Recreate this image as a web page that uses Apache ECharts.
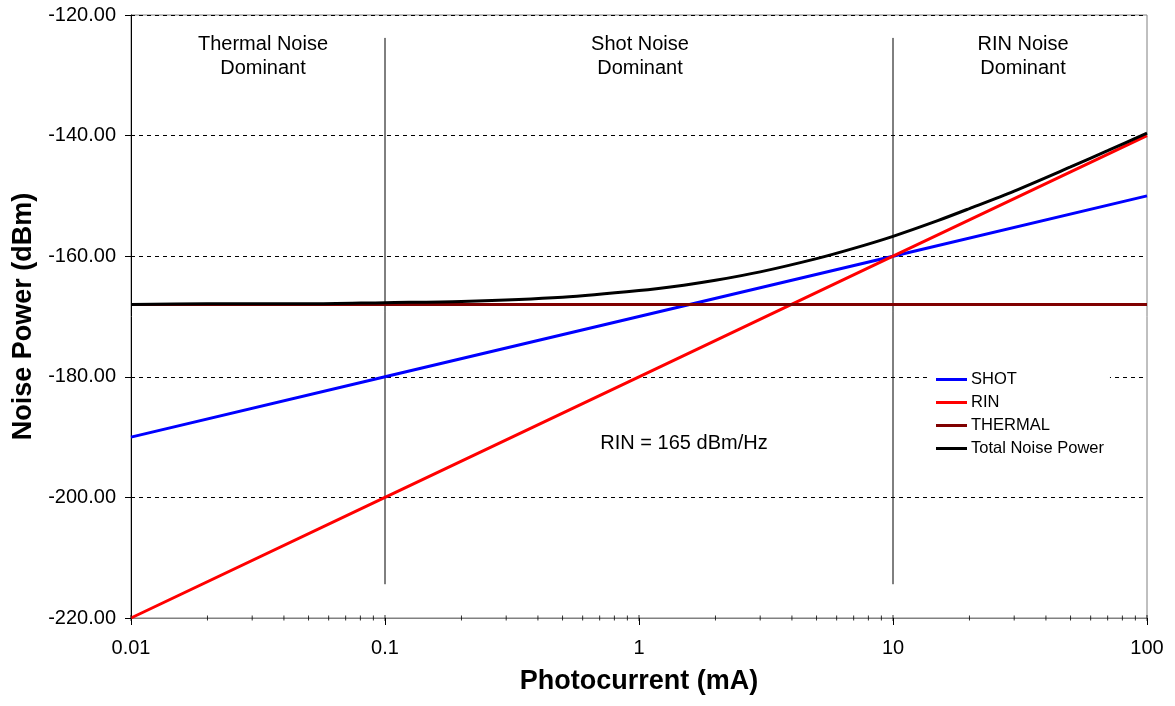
<!DOCTYPE html>
<html><head><meta charset="utf-8">
<script src="https://cdn.jsdelivr.net/npm/echarts@6/dist/echarts.min.js"></script>
<style>html,body{margin:0;padding:0;background:#fff}#c{width:1175px;height:706px}</style>
</head><body><div id="c"></div>
<script>
// Photocurrent (mA) and noise power (dBm)
const shotX = [0.01, 0.1, 1, 10, 100];
const shotY = [-190, -180, -170, -160, -150];
const rinX = [0.01, 0.1, 1, 10, 100];
const rinY = [-220, -200, -180, -160, -140];
const thermalX = [0.01, 100];
const thermalY = [-168, -168];
const totalX = [0.01, 0.02, 0.05, 0.1, 0.2, 0.5, 1, 1.5, 2, 3, 5, 7, 10, 15, 20, 30, 50, 70, 100];
const totalY = [-168.0, -167.9, -167.9, -167.7, -167.5, -166.8, -165.7, -164.8, -164.0, -162.6, -160.4, -158.7, -156.7, -154.1, -152.1, -149.2, -145.2, -142.5, -139.6];
const dividerX = [0.1, 10];
const dividerY = [-123.8, -214.4];
const majorTickX = [0.01, 0.1, 1, 10, 100];
const minorTickX = [0.02,0.03,0.04,0.05,0.06,0.07,0.08,0.09,0.2,0.3,0.4,0.5,0.6,0.7,0.8,0.9,2,3,4,5,6,7,8,9,20,30,40,50,60,70,80,90];
const yMin = -220, yMax = -120, yStep = 20;

const pairs = (xs, ys) => xs.map((x, i) => [x, ys[i]]);
const F = 'Liberation Sans, Arial, sans-serif';

const series = [
  {name:'SHOT', type:'line', data:pairs(shotX, shotY), symbol:'none', lineStyle:{color:'#0000ff', width:3}, itemStyle:{color:'#0000ff'}, z:3},
  {name:'RIN', type:'line', data:pairs(rinX, rinY), symbol:'none', lineStyle:{color:'#ff0000', width:3}, itemStyle:{color:'#ff0000'}, z:4},
  {name:'THERMAL', type:'line', data:pairs(thermalX, thermalY), symbol:'none', lineStyle:{color:'#800000', width:3}, itemStyle:{color:'#800000'}, z:5},
  {name:'Total Noise Power', type:'line', data:pairs(totalX, totalY), symbol:'none', smooth:0.3, lineStyle:{color:'#000000', width:3}, itemStyle:{color:'#000000'}, z:6}
];
dividerX.forEach(x => series.push({type:'line', data:[[x, dividerY[0]], [x, dividerY[1]]], symbol:'none', lineStyle:{color:'#000', width:1}, z:2, silent:true}));
series.push({type:'scatter', data:minorTickX.map(x => [x, yMin]), symbol:'rect', symbolSize:[1,5], itemStyle:{color:'#000'}, clip:false, silent:true, z:7});
series.push({type:'scatter', data:majorTickX.map(x => [x, yMin]), symbol:'rect', symbolSize:[1,6], itemStyle:{color:'#000'}, clip:false, silent:true, z:7});

const chart = echarts.init(document.getElementById('c'), null, {renderer:'canvas'});
chart.setOption({
  animation:false,
  backgroundColor:'#fff',
  grid:{left:131, right:28, top:15, bottom:88, show:true, borderColor:'#808080', borderWidth:1, backgroundColor:'transparent'},
  xAxis:{type:'log', logBase:10, min:0.01, max:100,
    name:'Photocurrent (mA)', nameLocation:'middle', nameGap:50,
    nameTextStyle:{fontFamily:F, fontSize:27, fontWeight:'bold', color:'#000'},
    axisLine:{show:true, lineStyle:{color:'#808080', width:1}},
    axisTick:{show:true, inside:false, length:7, lineStyle:{color:'#000'}},
    axisLabel:{fontFamily:F, fontSize:20, color:'#000', margin:20, formatter:v => String(v)},
    splitLine:{show:false}, minorTick:{show:false}},
  yAxis:{type:'value', min:yMin, max:yMax, interval:yStep,
    name:'Noise Power (dBm)', nameLocation:'middle', nameGap:92, nameRotate:90,
    nameTextStyle:{fontFamily:F, fontSize:27, fontWeight:'bold', color:'#000'},
    axisLine:{show:true, lineStyle:{color:'#000', width:1}},
    axisTick:{show:true, inside:false, length:6, lineStyle:{color:'#000'}},
    axisLabel:{fontFamily:F, fontSize:20, color:'#000', margin:15, formatter:v => v.toFixed(2)},
    splitLine:{show:true, lineStyle:{color:'#000', type:[4,4], width:1}}},
  legend:{data:['SHOT','RIN','THERMAL','Total Noise Power'], orient:'vertical', left:927, top:369,
    icon:'rect', itemWidth:31, itemHeight:3, itemGap:6,
    textStyle:{fontFamily:F, fontSize:16.5, color:'#000', padding:[0,0,0,-1]}, backgroundColor:'#fff', padding:[2,6,2,9]},
  graphic:[
    {type:'text', x:263, y:32, style:{text:'Thermal Noise\nDominant', font:'20px '+F, fill:'#000', textAlign:'center', textVerticalAlign:'top', lineHeight:24}},
    {type:'text', x:640, y:32, style:{text:'Shot Noise\nDominant', font:'20px '+F, fill:'#000', textAlign:'center', textVerticalAlign:'top', lineHeight:24}},
    {type:'text', x:1023, y:32, style:{text:'RIN Noise\nDominant', font:'20px '+F, fill:'#000', textAlign:'center', textVerticalAlign:'top', lineHeight:24}},
    {type:'text', x:684, y:443, style:{text:'RIN = 165 dBm/Hz', font:'20px '+F, fill:'#000', textAlign:'center', textVerticalAlign:'middle'}}
  ],
  series
});
</script></body></html>
